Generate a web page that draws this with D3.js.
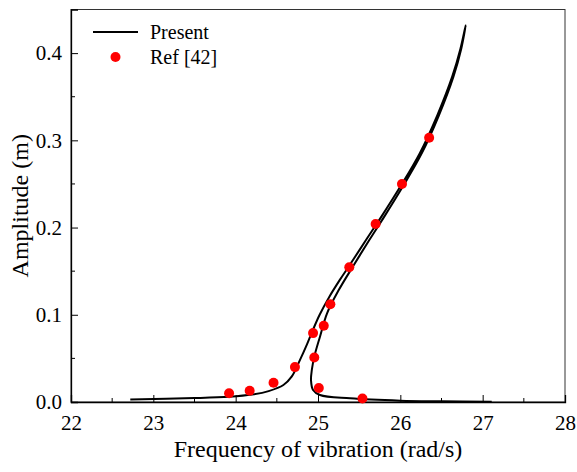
<!DOCTYPE html>
<html>
<head>
<meta charset="utf-8">
<script src="https://cdn.jsdelivr.net/npm/d3@7"></script>
<style>
  body { margin: 0; background: #fff; }
</style>
</head>
<body>
<div id="chart"></div>
<script>
// Present: frequency response curve, traced along the arc
const presentFreq = [
  22.72, 23.5, 23.92, 24.2, 24.4, 24.58, 24.68, 24.78, 24.87, 24.94, 25.02,
  25.14, 25.265, 25.385, 25.585, 25.77, 26.0, 26.235, 26.45, 26.63, 26.73, 26.794,
  26.74, 26.645, 26.47, 26.26, 26.03, 25.805, 25.625, 25.435, 25.25, 25.11, 25.024,
  24.955, 24.925, 24.915, 24.94, 25.024, 25.39, 26.0, 26.5, 27.11
];
const presentAmp = [
  0.003, 0.0045, 0.006, 0.0085, 0.0125, 0.0195, 0.029, 0.048, 0.067, 0.083, 0.100,
  0.121, 0.140, 0.157, 0.186, 0.2125, 0.247, 0.285, 0.329, 0.373, 0.405, 0.432,
  0.405, 0.373, 0.329, 0.285, 0.247, 0.2125, 0.186, 0.157, 0.128, 0.1017, 0.0749,
  0.052, 0.0367, 0.025, 0.0138, 0.008, 0.0042, 0.0015, 0.0008, 0.0003
];

// Ref [42] points
const refFreq = [23.92, 24.17, 24.46, 24.72, 24.94, 24.955, 25.01, 25.07, 25.15, 25.38, 25.70, 26.02, 26.35, 25.54];
const refAmp  = [0.010, 0.013, 0.022, 0.040, 0.079, 0.051, 0.016, 0.0875, 0.112, 0.1545, 0.204, 0.250, 0.303, 0.004];

const xTicks = [22, 23, 24, 25, 26, 27, 28];
const yTicks = [0.0, 0.1, 0.2, 0.3, 0.4];

const width = 577, height = 472;
const margin = { top: 9.5, right: 12, bottom: 70, left: 71 };
const innerW = width - margin.left - margin.right;
const innerH = height - margin.top - margin.bottom;
const serif = "Liberation Serif";

const svg = d3.select("#chart").append("svg")
  .attr("width", width)
  .attr("height", height);

const g = svg.append("g")
  .attr("transform", `translate(${margin.left},${margin.top})`);

const x = d3.scaleLinear().domain([22, 28]).range([0, innerW]);
const y = d3.scaleLinear().domain([0, 0.45]).range([innerH, 0]);

// frame
g.append("rect")
  .attr("width", innerW)
  .attr("height", innerH)
  .attr("fill", "none")
  .attr("stroke", "#333")
  .attr("stroke-width", 1);

// minor ticks
const xMinor = d3.range(22.5, 28, 1);
const yMinor = d3.range(0.05, 0.45, 0.1);

const xAxis = g.append("g")
  .attr("transform", `translate(0,${innerH})`)
  .call(d3.axisBottom(x).tickValues(xTicks).tickSize(-7).tickPadding(13)
    .tickFormat(d3.format("d")));
xAxis.selectAll(".tick").filter(d => d === 22 || d === 28).select("line").remove();
xAxis.append("g").selectAll("line")
  .data(xMinor)
  .join("line")
  .attr("x1", d => x(d)).attr("x2", d => x(d))
  .attr("y1", 0).attr("y2", -4)
  .attr("stroke", "#000");

const yAxis = g.append("g")
  .call(d3.axisLeft(y).tickValues(yTicks).tickSize(-7).tickPadding(9)
    .tickFormat(d3.format(".1f")));
yAxis.selectAll(".tick").filter(d => d === 0).select("line").remove();
yAxis.append("g").selectAll("line")
  .data(yMinor)
  .join("line")
  .attr("x1", 0).attr("x2", 4)
  .attr("y1", d => y(d)).attr("y2", d => y(d))
  .attr("stroke", "#000");

[xAxis, yAxis].forEach(a => {
  a.attr("font-family", serif).attr("font-size", 21);
  a.select(".domain").attr("stroke", "#000").attr("stroke-width", 1.3);
  a.selectAll(".tick line").attr("stroke", "#000");
  a.selectAll("text").attr("fill", "#000");
});

// axis titles
g.append("text")
  .attr("x", innerW / 2)
  .attr("y", innerH + 55)
  .attr("text-anchor", "middle")
  .attr("font-family", serif)
  .attr("font-size", 24)
  .text("Frequency of vibration (rad/s)");

g.append("text")
  .attr("transform", `translate(${28 - margin.left},${innerH / 2}) rotate(-90)`)
  .attr("text-anchor", "middle")
  .attr("font-family", serif)
  .attr("font-size", 24)
  .text("Amplitude (m)");

// Present curve
const presentData = presentFreq.map((f, i) => ({ f, a: presentAmp[i] }));
const line = d3.line()
  .x(d => x(d.f))
  .y(d => y(d.a))
  .curve(d3.curveCatmullRom.alpha(0.5));

g.append("path")
  .datum(presentData)
  .attr("d", line)
  .attr("fill", "none")
  .attr("stroke", "#000")
  .attr("stroke-width", 2);

// Ref points
const refData = refFreq.map((f, i) => ({ f, a: refAmp[i] }));
g.selectAll(".ref")
  .data(refData)
  .join("circle")
  .attr("class", "ref")
  .attr("cx", d => x(d.f))
  .attr("cy", d => y(d.a))
  .attr("r", 5)
  .attr("fill", "#ff0000");

// legend
const legend = svg.append("g").attr("font-family", serif).attr("font-size", 20);
legend.append("line")
  .attr("x1", 93).attr("x2", 138)
  .attr("y1", 32).attr("y2", 32)
  .attr("stroke", "#000")
  .attr("stroke-width", 2);
legend.append("text")
  .attr("x", 150).attr("y", 39)
  .text("Present");
legend.append("circle")
  .attr("cx", 115.5).attr("cy", 57)
  .attr("r", 5)
  .attr("fill", "#ff0000");
legend.append("text")
  .attr("x", 150).attr("y", 64)
  .text("Ref [42]");
</script>
</body>
</html>
